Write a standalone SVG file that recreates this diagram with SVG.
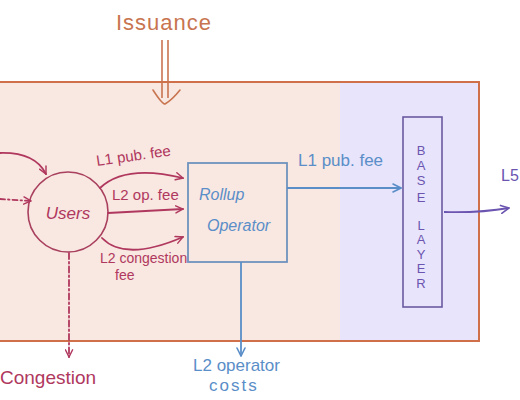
<svg xmlns="http://www.w3.org/2000/svg" width="520" height="400" viewBox="0 0 520 400">
<defs>
<marker id="mr" viewBox="0 0 10 10" refX="9" refY="5" markerWidth="9" markerHeight="9" markerUnits="userSpaceOnUse" orient="auto"><path d="M1,1 L9,5 L1,9" fill="none" stroke="#b0385e" stroke-width="1.6" stroke-linecap="round"/></marker>
<marker id="mb" viewBox="0 0 10 10" refX="9" refY="5" markerWidth="10" markerHeight="10" markerUnits="userSpaceOnUse" orient="auto"><path d="M1,1 L9,5 L1,9" fill="none" stroke="#5a8ec8" stroke-width="1.6" stroke-linecap="round"/></marker>
<marker id="mp" viewBox="0 0 10 10" refX="9" refY="5" markerWidth="10" markerHeight="10" markerUnits="userSpaceOnUse" orient="auto"><path d="M1,1 L9,5 L1,9" fill="none" stroke="#6b55b0" stroke-width="1.6" stroke-linecap="round"/></marker>
</defs>
<style>
.t{font-family:"Liberation Sans","DejaVu Sans",sans-serif}
.red{fill:#b0385e}
.blue{fill:#5a8ec8}
.pur{fill:#6b55b0}
.cr{fill:none;stroke:#b0385e;stroke-width:1.8;stroke-linecap:round}
.cb{fill:none;stroke:#5a8ec8;stroke-width:1.8}
.cp{fill:none;stroke:#6b55b0;stroke-width:1.8}
</style>
<rect x="0" y="0" width="520" height="400" fill="#ffffff"/>
<g id="system">
<rect x="-10" y="82" width="350" height="259" fill="#f9e7e1"/>
<rect x="340" y="82" width="139" height="259" fill="#e8e4fb"/>
<rect x="-10" y="82" width="489" height="259" fill="none" stroke="#d0704a" stroke-width="2"/>
</g>
<g id="issuance">
<text class="t" x="164" y="30" font-size="22" text-anchor="middle" fill="#c8744f" letter-spacing="1">Issuance</text>
</g>
<g id="users">
<circle cx="68" cy="212" r="40" fill="none" stroke="#a8405e" stroke-width="1.6"/>
<text class="t red" x="68" y="219" font-size="17" font-style="italic" text-anchor="middle">Users</text>
</g>
<g id="rollup">
<rect x="188" y="163" width="99" height="99" fill="none" stroke="#6f93bd" stroke-width="1.8"/>
<text class="t blue" x="199" y="200" font-size="16" font-style="italic">Rollup</text>
<text class="t blue" x="207" y="231" font-size="16" font-style="italic">Operator</text>
</g>
<g id="base-layer">
<rect x="403" y="117" width="39" height="190" fill="none" stroke="#6a5aa0" stroke-width="1.6"/>
<g class="t pur" font-size="13" text-anchor="middle">
<text x="421" y="155">B</text>
<text x="421" y="170">A</text>
<text x="421" y="185">S</text>
<text x="421" y="202">E</text>
<text x="421" y="230">L</text>
<text x="421" y="244">A</text>
<text x="421" y="259">Y</text>
<text x="421" y="273">E</text>
<text x="421" y="288">R</text>
</g>
</g>
<g id="congestion">
<text class="t red" x="0" y="384" font-size="19">Congestion</text>
</g>
<g id="l2-costs">
<text class="t blue" x="193" y="371" font-size="17">L2 operator</text>
<text class="t blue" x="209" y="391" font-size="17" letter-spacing="2">costs</text>
</g>
<g id="l5">
<text class="t pur" x="501" y="181" font-size="16">L5</text>
</g>
<g id="connectors">
<line x1="162" y1="40" x2="162" y2="98" stroke="#c8744f" stroke-width="1.6"/>
<line x1="168" y1="40" x2="168" y2="98" stroke="#c8744f" stroke-width="1.6"/>
<path d="M153,90 Q162,104 165,104 Q172,100 180,90" fill="none" stroke="#c8744f" stroke-width="1.6" stroke-linecap="round"/>
<path class="cr" d="M0,153 Q35,152 46,174" marker-end="url(#mr)"/>
<path class="cr" d="M0,199 L31,201" stroke-dasharray="5 3 1.5 3" marker-end="url(#mr)"/>
<path class="cr" d="M100,188 Q125,164 183,178" marker-end="url(#mr)"/>
<path class="cr" d="M108,213 L183,209" marker-end="url(#mr)"/>
<path class="cr" d="M102,238 Q125,262 183,237" marker-end="url(#mr)"/>
<path class="cr" d="M69,253 L69,357" stroke-dasharray="6 3 1.5 3" marker-end="url(#mr)"/>
<path class="cb" d="M287,188 L401,188" marker-end="url(#mb)"/>
<path class="cb" d="M241,262 L241,356" marker-end="url(#mb)"/>
<path class="cp" d="M444,212 Q480,213 509,208" marker-end="url(#mp)"/>
<text class="t red" x="97" y="166" font-size="15" transform="rotate(-8 97 166)">L1 pub. fee</text>
<text class="t red" x="112" y="200" font-size="15">L2 op. fee</text>
<text class="t red" x="100" y="263" font-size="14">L2 congestion</text>
<text class="t red" x="115" y="280" font-size="14">fee</text>
<text class="t blue" x="298" y="166" font-size="17">L1 pub. fee</text>
</g>
</svg>
